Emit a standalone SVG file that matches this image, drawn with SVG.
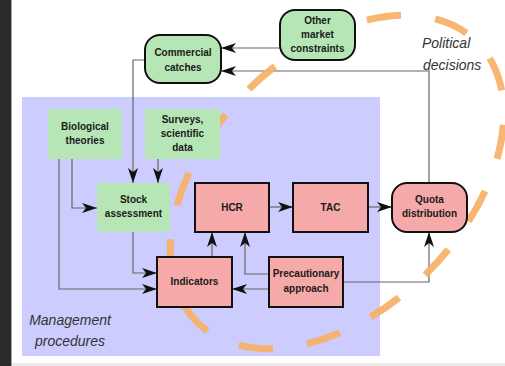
<svg xmlns="http://www.w3.org/2000/svg" width="505" height="366" viewBox="0 0 505 366">
  <defs>
    <marker id="arrow" markerUnits="userSpaceOnUse" markerWidth="16" markerHeight="11" refX="15" refY="5" orient="auto">
      <path d="M0,0 L15,5 L0,10 L4,5 z" fill="#111"/>
    </marker>
    <style>
      .frame { fill: #2b2b2b; }
      .zone { fill: #ccccff; }
      .ring { fill: none; stroke: #f7b067; stroke-width: 7; stroke-opacity: 0.92; }
      .edge { fill: none; stroke: #666; stroke-width: 1.2; marker-end: url(#arrow); }
      .green { fill: #b6e6b6; stroke: #111; stroke-width: 2; }
      .green-flat { fill: #b6e6b6; }
      .pink { fill: #f5a9a9; stroke: #111; stroke-width: 2; }
      .lbl { font-family: "Liberation Sans", Arial, sans-serif; font-size: 10px; font-weight: bold; fill: #1a1a1a; text-anchor: middle; }
      .note { font-family: "Liberation Sans", Arial, sans-serif; font-size: 14px; font-style: italic; fill: #333; }
    </style>
  </defs>

  <!-- page -->
  <rect x="0" y="0" width="505" height="366" fill="#ffffff"/>
  <rect x="0" y="363" width="505" height="3" fill="#ececec"/>
  <rect class="frame" x="0" y="0" width="11" height="366"/>
  <rect x="11" y="0" width="1" height="366" fill="#a8a8a8"/>

  <!-- management procedures area -->
  <rect class="zone" x="22" y="97" width="358" height="259"/>
  <text class="note" x="70" y="325" text-anchor="middle">Management</text>
  <text class="note" x="70" y="346" text-anchor="middle">procedures</text>

  <!-- connectors -->
  <g id="connectors">
    <path class="edge" d="M280,48 H221"/>
    <path class="edge" d="M429,183 V71 H221"/>
    <path class="edge" d="M145,60 H133 V183"/>
    <path class="edge" d="M158,159 V183"/>
    <path class="edge" d="M72,159 V208 H97"/>
    <path class="edge" d="M59,159 V289 H157"/>
    <path class="edge" d="M133,232 V273 H157"/>
    <path class="edge" d="M212,257 V232"/>
    <path class="edge" d="M269,274 H245 V232"/>
    <path class="edge" d="M269,289 H232"/>
    <path class="edge" d="M343,282 H429 V232"/>
    <path class="edge" d="M269,207 H293"/>
    <path class="edge" d="M368,207 H392"/>
  </g>

  <!-- political decisions boundary -->
  <ellipse class="ring" cx="337" cy="182" rx="198" ry="128" transform="rotate(-45 337 182)" pathLength="150" stroke-dasharray="5 5" stroke-dashoffset="7"/>
  <text class="note" x="422" y="48">Political</text>
  <text class="note" x="423" y="70">decisions</text>

  <!-- nodes -->
  <g id="other-market-constraints">
    <rect class="green" x="280" y="10" width="75" height="50" rx="15"/>
    <text class="lbl" x="317.5" y="24">Other</text>
    <text class="lbl" x="317.5" y="38">market</text>
    <text class="lbl" x="317.5" y="52">constraints</text>
  </g>
  <g id="commercial-catches">
    <rect class="green" x="145" y="35" width="76" height="48" rx="15"/>
    <text class="lbl" x="183" y="56">Commercial</text>
    <text class="lbl" x="183" y="71">catches</text>
  </g>
  <g id="biological-theories">
    <rect class="green-flat" x="48" y="109" width="74" height="50"/>
    <text class="lbl" x="85" y="130">Biological</text>
    <text class="lbl" x="85" y="144">theories</text>
  </g>
  <g id="surveys">
    <rect class="green-flat" x="145" y="109" width="75" height="50"/>
    <text class="lbl" x="182.5" y="123">Surveys,</text>
    <text class="lbl" x="182.5" y="137">scientific</text>
    <text class="lbl" x="182.5" y="151">data</text>
  </g>
  <g id="stock-assessment">
    <rect class="green-flat" x="97" y="183" width="73" height="49"/>
    <text class="lbl" x="133.5" y="203">Stock</text>
    <text class="lbl" x="133.5" y="217">assessment</text>
  </g>
  <g id="hcr">
    <rect class="pink" x="195" y="183" width="74" height="49"/>
    <text class="lbl" x="232" y="211">HCR</text>
  </g>
  <g id="tac">
    <rect class="pink" x="293" y="183" width="75" height="49"/>
    <text class="lbl" x="330.5" y="211">TAC</text>
  </g>
  <g id="quota-distribution">
    <rect class="pink" x="392" y="183" width="75" height="49" rx="15"/>
    <text class="lbl" x="429.5" y="203">Quota</text>
    <text class="lbl" x="429.5" y="217">distribution</text>
  </g>
  <g id="indicators">
    <rect class="pink" x="157" y="257" width="75" height="50"/>
    <text class="lbl" x="194.5" y="285">Indicators</text>
  </g>
  <g id="precautionary-approach">
    <rect class="pink" x="269" y="257" width="74" height="50"/>
    <text class="lbl" x="306" y="277">Precautionary</text>
    <text class="lbl" x="306" y="292">approach</text>
  </g>
</svg>
